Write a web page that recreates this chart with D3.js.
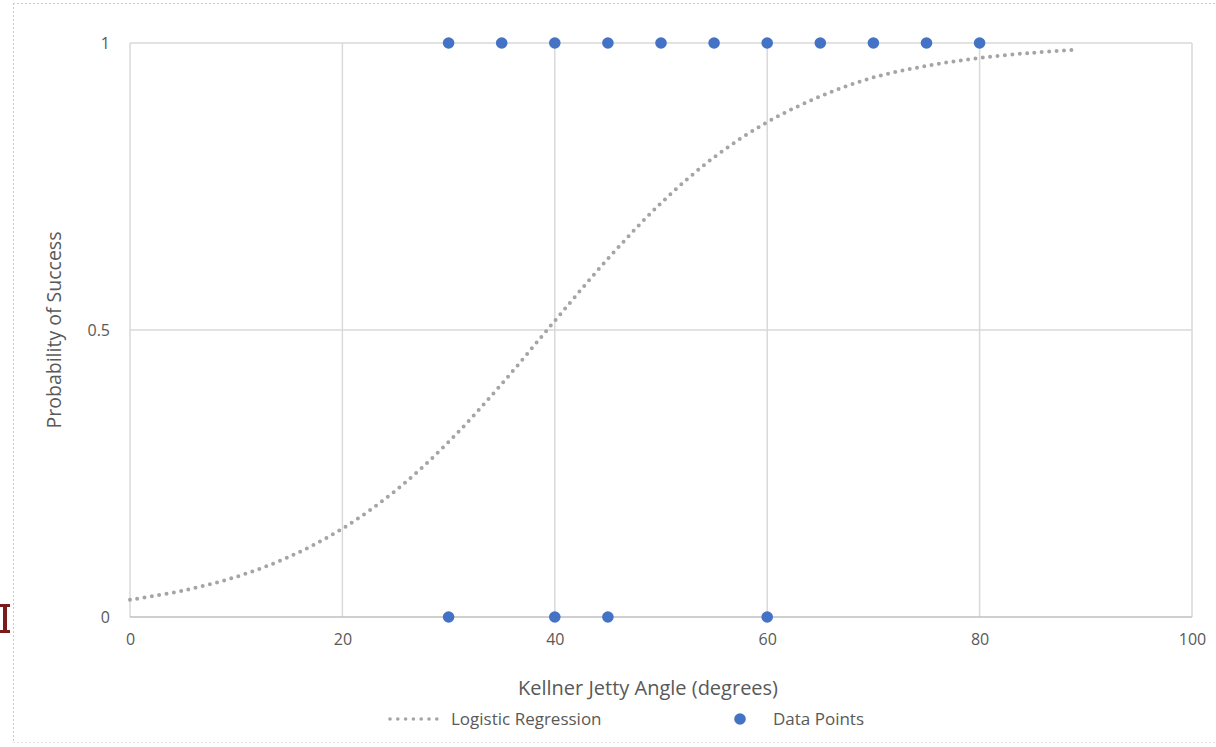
<!DOCTYPE html>
<html>
<head>
<meta charset="utf-8">
<script src="https://cdn.jsdelivr.net/npm/d3@7"></script>
<style>
  html, body { margin: 0; padding: 0; background: #ffffff; }
  svg { display: block; }
  text { font-family: "Open Sans", "Liberation Sans", sans-serif; }
</style>
</head>
<body>
<svg id="chart" width="1216" height="747"></svg>
<script>
// Observed outcomes: jetty angle (degrees) and success (1) / failure (0)
const successAngles = [30, 35, 40, 45, 50, 55, 60, 65, 70, 75, 80];
const failureAngles = [30, 40, 45, 60];

// Fitted logistic regression curve, sampled along the angle axis
const curveAngles = [0, 5, 10, 15, 20, 25, 30, 35, 40, 45, 50, 55, 60, 65, 70, 75, 80, 85, 89];
const curveProbs  = [0.030, 0.046, 0.070, 0.105, 0.154, 0.220, 0.305, 0.406, 0.516, 0.624, 0.721, 0.801, 0.862, 0.907, 0.940, 0.960, 0.974, 0.983, 0.988];

const xTicks = [0, 20, 40, 60, 80, 100];
const yTicks = [0, 0.5, 1];
const yTickLabels = ["0", "0.5", "1"];

const xTitle = "Kellner Jetty Angle (degrees)";
const yTitle = "Probability of Success";
const legendLabels = ["Logistic Regression", "Data Points"];

const svg = d3.select("#chart");
const W = 1216, H = 747;
const plot = { left: 130, right: 1192, top: 43, bottom: 617 };
const textColor = "#595959";

const x = d3.scaleLinear().domain([0, 100]).range([plot.left, plot.right]);
const y = d3.scaleLinear().domain([0, 1]).range([plot.bottom, plot.top]);

// Page frame (dotted border)
svg.append("line").attr("x1", 13).attr("x2", W).attr("y1", 3.5).attr("y2", 3.5)
  .attr("stroke", "#c8c8c8").attr("stroke-width", 1).attr("stroke-dasharray", "2 2");
svg.append("line").attr("x1", 13.5).attr("x2", 13.5).attr("y1", 3).attr("y2", H - 4)
  .attr("stroke", "#c8c8c8").attr("stroke-width", 1).attr("stroke-dasharray", "2 2");
svg.append("line").attr("x1", 13).attr("x2", W).attr("y1", H - 4.5).attr("y2", H - 4.5)
  .attr("stroke", "#e4e4e4").attr("stroke-width", 1).attr("stroke-dasharray", "2 2");

// Margin marker at the left edge (serif bar shape)
svg.append("path")
  .attr("d", "M0,604 H10 V607 H7 V630 H10 V633 H0 V630 H3 V607 H0 Z")
  .attr("fill", "#7a1c1c");

// Gridlines
const g = svg.append("g");
g.selectAll("line.vgrid").data(xTicks).join("line")
  .attr("class", "vgrid")
  .attr("x1", d => x(d)).attr("x2", d => x(d))
  .attr("y1", plot.top).attr("y2", plot.bottom)
  .attr("stroke", "#d9d9d9").attr("stroke-width", 1.5);
g.selectAll("line.hgrid").data(yTicks).join("line")
  .attr("class", "hgrid")
  .attr("x1", plot.left).attr("x2", plot.right)
  .attr("y1", d => y(d)).attr("y2", d => y(d))
  .attr("stroke", d => d === 0 ? "#bfbfbf" : "#d9d9d9").attr("stroke-width", 1.5);

// Axes (labels only; lines drawn as gridlines)
const xAxis = svg.append("g").attr("transform", `translate(0,${plot.bottom + 17})`)
  .call(d3.axisBottom(x).tickValues(xTicks).tickSize(0).tickPadding(0));
xAxis.select(".domain").remove();
xAxis.selectAll("text").attr("fill", textColor).style("font-size", "16px")
  .attr("dy", "0.71em");

const yAxis = svg.append("g").attr("transform", `translate(${plot.left - 20},0)`)
  .call(d3.axisLeft(y).tickValues(yTicks).tickSize(0).tickPadding(0)
    .tickFormat((d, i) => yTickLabels[i]));
yAxis.select(".domain").remove();
yAxis.selectAll("text").attr("fill", textColor).style("font-size", "16px");

// Axis titles
svg.append("text").attr("x", 648).attr("y", 695)
  .attr("text-anchor", "middle").attr("fill", textColor).style("font-size", "20px")
  .text(xTitle);
svg.append("text").attr("transform", `translate(61,${(plot.top + plot.bottom) / 2}) rotate(-90)`)
  .attr("text-anchor", "middle").attr("fill", textColor).style("font-size", "19.5px")
  .text(yTitle);

// Logistic regression curve (dotted)
const curveData = curveAngles.map((a, i) => [a, curveProbs[i]]);
const line = d3.line().x(d => x(d[0])).y(d => y(d[1])).curve(d3.curveCatmullRom);
svg.append("path").datum(curveData).attr("d", line)
  .attr("fill", "none").attr("stroke", "#a5a5a5").attr("stroke-width", 4)
  .attr("stroke-linecap", "round").attr("stroke-dasharray", "0 7.4");

// Data points
const pts = successAngles.map(a => [a, 1]).concat(failureAngles.map(a => [a, 0]));
svg.append("g").selectAll("circle").data(pts).join("circle")
  .attr("cx", d => x(d[0])).attr("cy", d => y(d[1])).attr("r", 5.8)
  .attr("fill", "#4472c4");

// Legend
const leg = svg.append("g");
leg.append("line").attr("x1", 390).attr("x2", 437).attr("y1", 719).attr("y2", 719)
  .attr("stroke", "#a5a5a5").attr("stroke-width", 3.6)
  .attr("stroke-linecap", "round").attr("stroke-dasharray", "0 7.8");
leg.append("text").attr("x", 451).attr("y", 725).attr("fill", textColor)
  .style("font-size", "17px").text(legendLabels[0]);
leg.append("circle").attr("cx", 740).attr("cy", 719).attr("r", 5.8).attr("fill", "#4472c4");
leg.append("text").attr("x", 773).attr("y", 725).attr("fill", textColor)
  .style("font-size", "17px").text(legendLabels[1]);
</script>
</body>
</html>
